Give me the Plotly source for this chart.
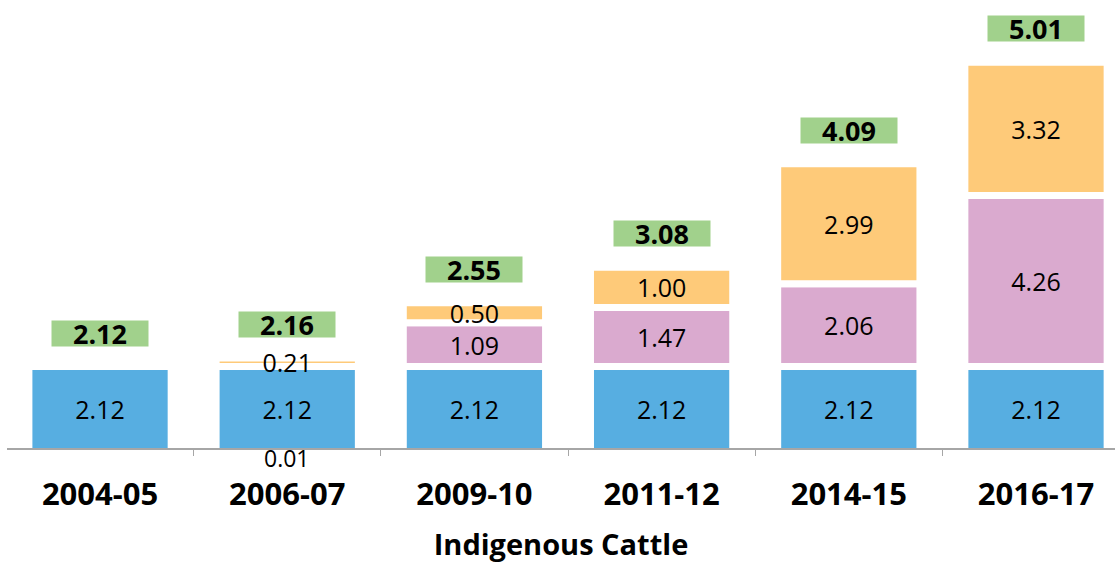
import plotly.graph_objects as go

# Milk yield components, indigenous cattle (kg/day)
years = ["2004-05", "2006-07", "2009-10", "2011-12", "2014-15", "2016-17"]
base_yield = [2.12, 2.12, 2.12, 2.12, 2.12, 2.12]
component_b = [0.00, -0.01, 1.09, 1.47, 2.06, 4.26]
component_c = [0.00, 0.21, 0.50, 1.00, 2.99, 3.32]
overall = [2.12, 2.16, 2.55, 3.08, 4.09, 5.01]

BLUE = "#57AEE1"
PINK = "#DAAACF"
ORANGE = "#FECA79"
GREEN = "#A1D18C"
FONT = "Open Sans"


def seg_labels(vals):
    # negative segments get their label as an annotation below the axis
    return [f"{v:.2f}" if v > 0 else "" for v in vals]


fig = go.Figure()
for vals, color in ((base_yield, BLUE), (component_b, PINK), (component_c, ORANGE)):
    fig.add_trace(go.Bar(
        x=years,
        y=vals,
        marker=dict(color=color, line=dict(color="white", width=7)),
        text=seg_labels(vals),
        textposition="inside",
        insidetextanchor="middle",
        textangle=0,
        constraintext="none",
        textfont=dict(family=FONT, size=25, color="black"),
        cliponaxis=False,
        hoverinfo="skip",
    ))

# Labels for segments that fall below zero, hung just under the axis line
for vals in (component_b, component_c):
    for yr, v in zip(years, vals):
        if v < 0:
            fig.add_annotation(
                x=yr, y=0, xref="x", yref="paper",
                text=f"{abs(v):.2f}",
                showarrow=False,
                yanchor="top",
                yshift=8,
                font=dict(family=FONT, size=23, color="black"),
            )

# Overall figure for each year, boxed above its stack
for yr, b, p, o, tot in zip(years, base_yield, component_b, component_c, overall):
    top = b + max(p, 0) + max(o, 0)
    fig.add_annotation(
        x=yr, y=top, xref="x", yref="y",
        text=f"<b>{tot:.2f}</b>",
        showarrow=False,
        yanchor="bottom",
        yshift=20,
        bgcolor=GREEN,
        width=96, height=25,
        borderpad=0,
        font=dict(family=FONT, size=27, color="black"),
    )

fig.update_layout(
    barmode="relative",
    bargap=0.24,
    width=1115, height=563,
    margin=dict(l=7, r=0, t=0, b=115, autoexpand=False),
    paper_bgcolor="white",
    plot_bgcolor="white",
    showlegend=False,
    font=dict(family=FONT, color="black"),
    uniformtext=dict(minsize=25, mode="show"),
)
fig.update_xaxes(
    type="category",
    range=[-0.497, 5.422],
    showline=True, linecolor="#A6A6A6", linewidth=1.5,
    ticks="outside", tickson="boundaries", ticklen=6, tickcolor="#A6A6A6",
    tickfont=dict(family=FONT, size=31, color="black", weight="bold"),
    ticklabelstandoff=18,
    title=dict(text="<b>Indigenous Cattle</b>", font=dict(family=FONT, size=29, color="black"), standoff=27),
    automargin=False,
    showgrid=False,
    fixedrange=True,
)
fig.update_yaxes(
    range=[0.09, 11.25],
    visible=False,
    showgrid=False,
    zeroline=False,
    fixedrange=True,
)

fig.write_html("out.html")
